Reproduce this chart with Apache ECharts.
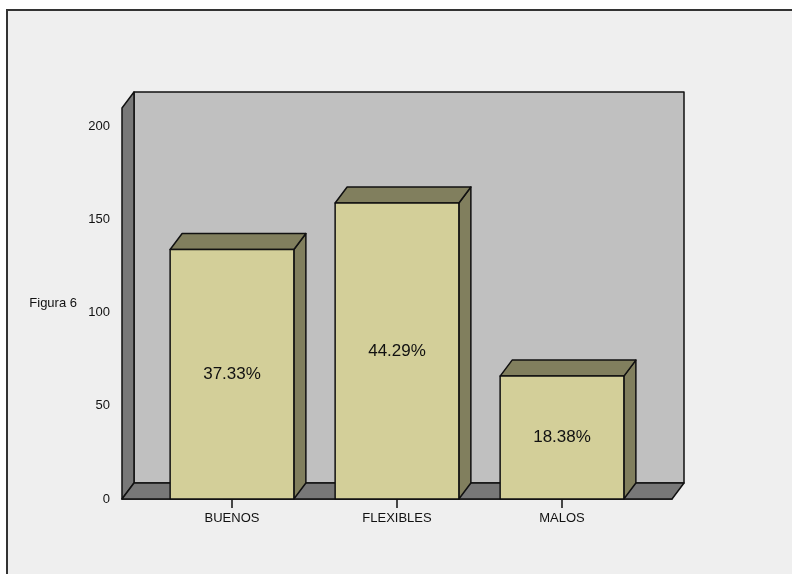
<!DOCTYPE html>
<html>
<head>
<meta charset="utf-8">
<script src="https://cdn.jsdelivr.net/npm/echarts@6/dist/echarts.min.js"></script>
<style>
  html, body { margin: 0; padding: 0; background: #ffffff; }
  #chart { width: 792px; height: 574px; }
</style>
</head>
<body>
<div id="chart"></div>
<script>
// Survey answers: counts per category, percentages derived from the total
const categories = ['BUENOS', 'FLEXIBLES', 'MALOS'];
const counts = [134, 159, 66];
const yTickValues = [0, 50, 100, 150, 200];
const yAxisTitle = 'Figura 6';

const total = counts.reduce((a, b) => a + b, 0);
const catIndex = categories.map((_, i) => i);

// 3D look: depth offset of the back plane, in pixels
const DX = 12, DY = -16;
const BAR_HALF = 0.375;          // half bar width in category units
const FONT = '"Liberation Sans", Arial, sans-serif';

const COLORS = {
  wall: '#c0c0c0',
  sideWall: '#787878',
  barFront: '#d3cf99',
  barShade: '#817f5e',
  edge: '#111111'
};

const chart = echarts.init(document.getElementById('chart'), null, { renderer: 'canvas' });

const edgeStyle = { stroke: COLORS.edge, lineWidth: 1.5, lineJoin: 'round' };

function renderWalls(params) {
  const c = params.coordSys;
  const x0 = c.x, y0 = c.y, x1 = c.x + c.width, y1 = c.y + c.height;
  return {
    type: 'group',
    children: [
      { // back wall
        type: 'polygon',
        shape: { points: [[x0 + DX, y0 + DY], [x1 + DX, y0 + DY], [x1 + DX, y1 + DY], [x0 + DX, y1 + DY]] },
        style: Object.assign({ fill: COLORS.wall }, edgeStyle)
      },
      { // left wall
        type: 'polygon',
        shape: { points: [[x0, y0], [x0 + DX, y0 + DY], [x0 + DX, y1 + DY], [x0, y1]] },
        style: Object.assign({ fill: COLORS.sideWall }, edgeStyle)
      },
      { // floor
        type: 'polygon',
        shape: { points: [[x0, y1], [x0 + DX, y1 + DY], [x1 + DX, y1 + DY], [x1, y1]] },
        style: Object.assign({ fill: COLORS.sideWall }, edgeStyle)
      }
    ]
  };
}

function renderBar(params, api) {
  const i = api.value(0);
  const v = api.value(1);
  const tl = api.coord([i - BAR_HALF, v]);
  const br = api.coord([i + BAR_HALF, 0]);
  const xl = tl[0], yt = tl[1], xr = br[0], yb = br[1];
  const pct = (v / total * 100).toFixed(2) + '%';
  return {
    type: 'group',
    children: [
      {
        type: 'polygon',
        shape: { points: [[xr, yt], [xr + DX, yt + DY], [xr + DX, yb + DY], [xr, yb]] },
        style: Object.assign({ fill: COLORS.barShade }, edgeStyle)
      },
      {
        type: 'polygon',
        shape: { points: [[xl, yt], [xl + DX, yt + DY], [xr + DX, yt + DY], [xr, yt]] },
        style: Object.assign({ fill: COLORS.barShade }, edgeStyle)
      },
      {
        type: 'rect',
        shape: { x: xl, y: yt, width: xr - xl, height: yb - yt },
        style: Object.assign({ fill: COLORS.barFront }, edgeStyle)
      },
      {
        type: 'text',
        style: {
          x: (xl + xr) / 2, y: (yt + yb) / 2,
          text: pct, fill: '#111111',
          font: '17px ' + FONT,
          align: 'center', verticalAlign: 'middle'
        }
      }
    ]
  };
}

const option = {
  animation: false,
  backgroundColor: '#ffffff',
  graphic: {
    elements: [{
      type: 'rect', z: -100,
      shape: { x: 7, y: 10, width: 800, height: 600 },
      style: { fill: '#efefef', stroke: '#333333', lineWidth: 2 }
    }]
  },
  grid: { left: 122, right: 120, top: 108, bottom: 75 },
  xAxis: {
    type: 'value',
    // categories sit at 0, 1, 2 with two thirds of a slot of padding each side
    min: -2 / 3,
    max: 8 / 3,
    splitLine: { show: false },
    axisLine: { show: true, lineStyle: { color: COLORS.edge, width: 1.5 } },
    axisTick: { show: true, customValues: catIndex, length: 9, lineStyle: { color: COLORS.edge, width: 1.5 } },
    axisLabel: {
      customValues: catIndex,
      formatter: (val) => categories[Math.round(val)],
      margin: 13, color: '#111111', fontFamily: FONT, fontSize: 13
    }
  },
  yAxis: {
    type: 'value',
    min: 0,
    max: 210,
    name: yAxisTitle,
    nameLocation: 'middle',
    nameRotate: 0,
    nameGap: 45,
    nameTextStyle: { color: '#111111', fontFamily: FONT, fontSize: 13, align: 'right' },
    splitLine: { show: false },
    axisLine: { show: true, lineStyle: { color: COLORS.edge, width: 1.5 } },
    axisTick: { show: true, customValues: yTickValues, length: 9, lineStyle: { color: COLORS.edge, width: 1.5 } },
    axisLabel: {
      customValues: yTickValues,
      margin: 12, color: '#111111', fontFamily: FONT, fontSize: 13
    }
  },
  series: [
    {
      type: 'custom',
      name: 'walls',
      silent: true,
      renderItem: renderWalls,
      data: [[0, 0]],
      z: 1
    },
    {
      type: 'custom',
      name: 'counts',
      renderItem: renderBar,
      data: counts.map((v, i) => [i, v]),
      z: 2
    }
  ]
};

chart.setOption(option);
</script>
</body>
</html>
